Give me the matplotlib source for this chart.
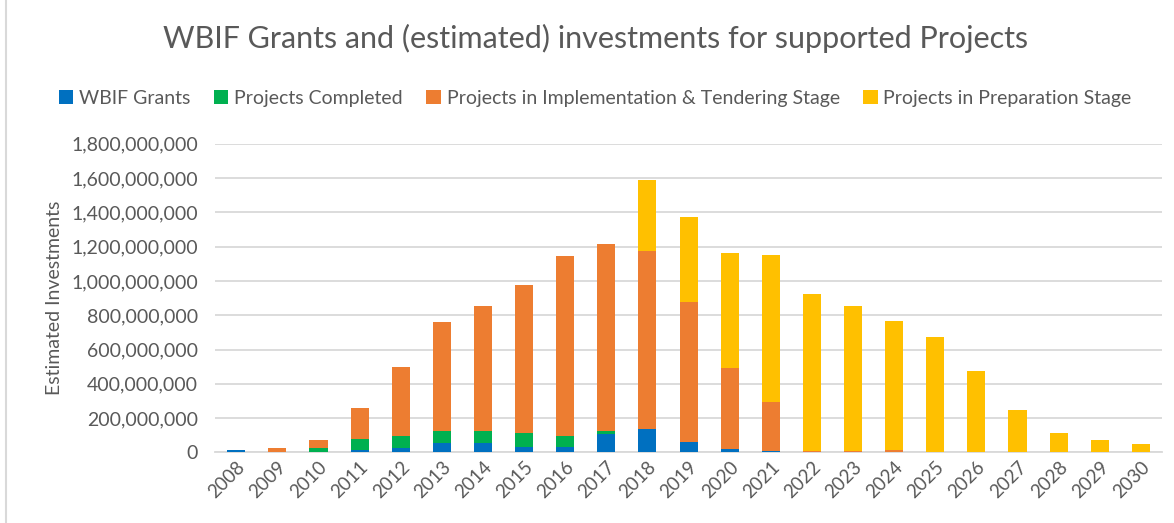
import numpy as np
import matplotlib
matplotlib.use('Agg')
import matplotlib.pyplot as plt
from matplotlib.ticker import FuncFormatter

plt.rcParams['font.family'] = ['Lato', 'DejaVu Sans']

# valores en millones (segmentos apilados)
anios = [str(a) for a in range(2008, 2031)]
wbif_grants = [12, 3, 4, 14, 23, 57, 57, 33, 33, 106, 138, 63, 20, 10, 3, 3, 3, 1, 1, 1, 1, 0, 0]
completados = [0, 2, 19, 62, 75, 70, 70, 82, 65, 21, 0, 0, 0, 0, 0, 0, 0, 0, 0, 0, 0, 0, 0]
implementacion = [0, 18, 51, 185, 399, 632, 725, 862, 1045, 1088, 1034, 816, 473, 285, 5, 5, 9, 3, 3, 3, 3, 0, 0]
preparacion = [0, 0, 0, 0, 0, 0, 0, 0, 0, 0, 419, 494, 669, 857, 916, 844, 756, 670, 472, 244, 107, 70, 49]

series = [
    ('WBIF Grants', wbif_grants, '#0070C0'),
    ('Projects Completed', completados, '#00B050'),
    ('Projects in Implementation & Tendering Stage', implementacion, '#ED7D31'),
    ('Projects in Preparation Stage', preparacion, '#FFC000'),
]

gris = '#595959'

fig = plt.figure(figsize=(11.74, 5.23), dpi=100)
ax = fig.add_axes([0.183, 0.135, 0.807, 0.59])

x = np.arange(len(anios))
base = np.zeros(len(anios))
for nombre, valores, color in series:
    v = np.array(valores) * 1e6
    ax.bar(x, v, width=0.44, bottom=base, color=color, label=nombre, zorder=3)
    base = base + v

ax.set_xlim(-0.52, len(anios) - 0.48)
ax.set_ylim(0, 1.8e9)
ax.set_yticks(np.arange(0, 1.8e9 + 1, 2e8))
ax.yaxis.set_major_formatter(FuncFormatter(lambda v, p: '{:,.0f}'.format(v)))
ax.grid(axis='y', color='#D9D9D9', linewidth=1.3, zorder=0)
for s in ['top', 'right', 'left']:
    ax.spines[s].set_visible(False)
ax.spines['bottom'].set_color('#D9D9D9')
ax.spines['bottom'].set_linewidth(1.3)
ax.tick_params(axis='y', length=0, labelsize=14, labelcolor=gris, pad=12)
ax.tick_params(axis='x', length=0, labelsize=13.5, labelcolor=gris, pad=4)
ax.set_xticks(x)
ax.set_xticklabels(anios, rotation=45, ha='right', rotation_mode='anchor')
ax.set_ylabel('Estimated Investments', fontsize=14, color=gris, labelpad=6)

fig.suptitle('WBIF Grants and (estimated) investments for supported Projects',
             x=0.507, y=0.955, fontsize=22, color=gris)
leg = fig.legend(loc='center', bbox_to_anchor=(0.507, 0.812), ncol=4, frameon=False,
                 fontsize=14, handlelength=0.75, handleheight=0.75, handletextpad=0.3,
                 columnspacing=1.2)
for t in leg.get_texts():
    t.set_color(gris)

# borde gris del gráfico a la izquierda
fig.add_artist(plt.Line2D([0.005, 0.005], [0, 1], color='#D9D9D9', linewidth=1.5))

fig.savefig('out.png', dpi=100)
